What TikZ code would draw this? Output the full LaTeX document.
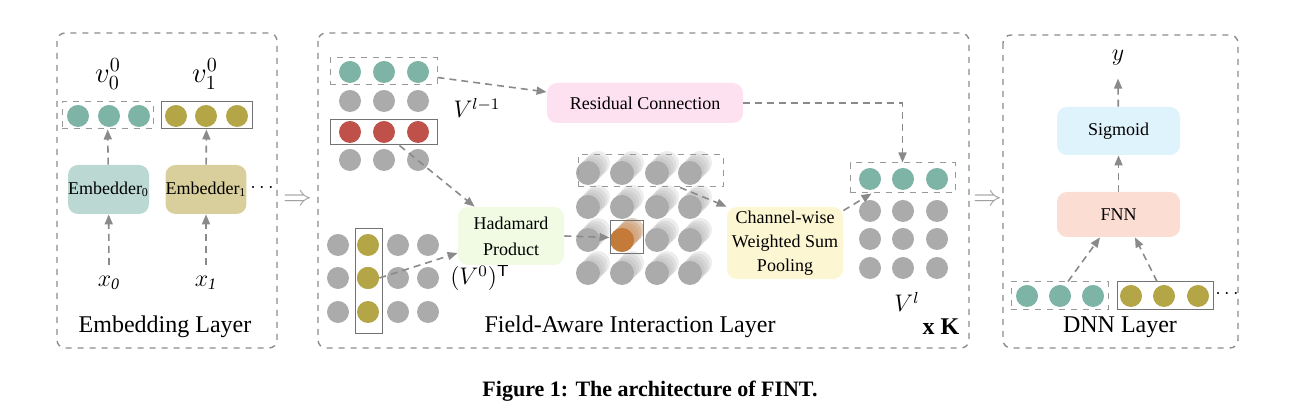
\documentclass[tikz,border=0pt]{standalone}
\usepackage{fontspec}
\setmainfont{Liberation Serif}
\usepackage{tikz}
\usetikzlibrary{arrows.meta}

\definecolor{tealc}{HTML}{7DB4A6}
\definecolor{olivec}{HTML}{B4A547}
\definecolor{grayc}{HTML}{ABABAB}
\definecolor{redc}{HTML}{C0504A}
\definecolor{orangec}{HTML}{C47A38}
\definecolor{linec}{HTML}{8A8A8A}
\definecolor{embA}{HTML}{BBD9D2}
\definecolor{embB}{HTML}{D8CF9C}
\definecolor{resc}{HTML}{FDE1F0}
\definecolor{hadc}{HTML}{F1FBE3}
\definecolor{poolc}{HTML}{FDF6D2}
\definecolor{sigc}{HTML}{DFF3FC}
\definecolor{fnnc}{HTML}{FCDDD3}

\begin{document}
\begin{tikzpicture}[x=0.5pt, y=-0.5pt,
		ball/.style={circle, inner sep=0pt, minimum size=11pt},
		bigball/.style={circle, inner sep=0pt, minimum size=12pt},
		layer/.style={draw=gray!90, dashed, line width=0.7pt, rounded corners=4pt},
		flow/.style={draw=linec, line width=0.8pt, dash pattern=on 3.5pt off 2.5pt, -{Triangle[length=5pt, width=4pt]}},
		block/.style={rounded corners=5pt, inner sep=0pt, font=\small, align=center},
		dbox/.style={draw=gray!80, dashed, line width=0.5pt, inner sep=0pt},
		sbox/.style={draw=gray!90!black, line width=0.5pt, inner sep=0pt}]
		\useasboundingbox (0,0) rectangle (1297,415);

		% Panels
		\draw[layer] (57,33) rectangle (277,348);
		\draw[layer] (318,33) rectangle (969,348);
		\draw[layer] (1003,35) rectangle (1238,348);
		\node[text=gray!75, font=\Large] (imp1) at (298,200) {$\Rightarrow$};
		\node[text=gray!75, font=\Large] (imp2) at (988,200) {$\Rightarrow$};

		% Embedding Layer
		\node[dbox, minimum width=45.5pt, minimum height=13.5pt] (e0) at (107.5,115.5) {};
		\foreach \x in {78,109,139} \node[ball, fill=tealc] at (\x,116) {};
		\node[sbox, minimum width=45.5pt, minimum height=13.5pt] (e1) at (206.5,115.5) {};
		\foreach \x in {176,206,237} \node[ball, fill=olivec] at (\x,116) {};
		\node[block, fill=embA, minimum width=40.5pt, minimum height=24.5pt] (emb0) at (108.5,189.5) {Embedder\textsubscript{0}};
		\node[block, fill=embB, minimum width=40pt, minimum height=24.5pt] (emb1) at (206,189.5) {Embedder\textsubscript{1}};
		\node (dots0) at (262,188) {$\cdots$};
		\node[font=\Large, inner sep=0pt] (v0) at (108,74) {$v_0^0$};
		\node[font=\Large, inner sep=0pt] (v1) at (205,74) {$v_1^0$};
		\node[font=\large] (x0) at (109,283) {$x_{\mathit{0}}$};
		\node[font=\large] (x1) at (206,283) {$x_{\mathit{1}}$};
		\draw[flow] ([yshift=2pt]x0.north) -- (emb0);
		\draw[flow] ([yshift=2pt]x1.north) -- (emb1);
		\draw[flow] (emb0) -- (e0);
		\draw[flow] (emb1) -- (e1);
		\node[font=\large] (t1) at (165,327) {Embedding Layer};

		% Field-Aware Interaction Layer: V^{l-1}
		\node[dbox, minimum width=53.5pt, minimum height=13.5pt] (vtop) at (383.5,71.5) {};
		\foreach \x in {350,384,418} {
			\node[ball, fill=tealc] at (\x,72) {};
			\node[ball, fill=grayc] at (\x,101) {};
			\node[ball, fill=redc] at (\x,132) {};
			\node[ball, fill=grayc] at (\x,160) {};
		}
		\node[sbox, minimum width=53.5pt, minimum height=12.5pt] (vred) at (383.5,132.5) {};
		\node[font=\large] (vprev) at (477,108) {$V^{l-1}$};

		% V^0 transposed
		\foreach \x/\c in {338/grayc,368/olivec,398/grayc,428/grayc}
			\foreach \y in {245,278,312} \node[ball, fill=\c] at (\x,\y) {};
		\node[ball, fill=olivec] (vo) at (368,278) {};
		\node[sbox, minimum width=13.5pt, minimum height=52.5pt] (vcol) at (368.5,281.5) {};
		\node[font=\large] (vzero) at (480,278) {$(V^0)^{\mathsf{T}}$};

		% Blocks
		\node[block, fill=resc, minimum width=98pt, minimum height=20pt] (res) at (645,103) {Residual Connection};
		\node[block, fill=hadc, minimum width=53pt, minimum height=29pt] (had) at (511,236) {Hadamard\\[2pt]Product};
		\node[block, fill=poolc, minimum width=58pt, minimum height=36pt] (pool) at (785,243) {Channel-wise\\[1pt]Weighted Sum\\[1pt]Pooling};

		% Interaction tensor
		\foreach \x in {588,622,657,690}
			\foreach \y in {173,207,240,273} {
				\foreach \k in {4,3,2,1} \node[bigball, fill=grayc, opacity=0.22] at (\x+2.5*\k,\y-2.5*\k) {};
				\node[bigball, fill=grayc] at (\x,\y) {};
			}
		\foreach \k in {4,3,2,1} \node[bigball, fill=orangec!70, opacity=0.4] at (622+2.5*\k,240-2.5*\k) {};
		\node[bigball, fill=orangec] at (622,240) {};
		\node[dbox, minimum width=72.5pt, minimum height=16pt] (ttop) at (650.5,171) {};
		\node[sbox, minimum width=16.5pt, minimum height=16.5pt] (oc) at (626.5,237.5) {};

		% V^l
		\foreach \x in {870,903,937} {
			\node[ball, fill=tealc] at (\x,179) {};
			\foreach \y in {211,239,268} \node[ball, fill=grayc] at (\x,\y) {};
		}
		\node[dbox, minimum width=52.5pt, minimum height=15pt] (vl) at (902.5,178) {};
		\node[font=\large] (vlab) at (907,302) {$V^{l}$};
		\node[font=\large\bfseries] (times) at (941,327) {x K};
		\node[font=\large] (t2) at (630,327) {Field-Aware Interaction Layer};

		% Connections
		\draw[flow] ([yshift=-3pt]vtop.east) -- ([yshift=5.5pt]res.west);
		\draw[flow] (res.east) -| (vl.north);
		\draw[flow] ([xshift=8pt]vred.south) -- ([xshift=8.5pt]had.north west);
		\draw[flow] (vo.east) -- ([yshift=-8.5pt]had.west);
		\draw[flow] (had.east) -- (oc.west);
		\draw[flow] ([xshift=14.75pt]ttop.south) -- (pool.north west);
		\draw[flow] ([yshift=-2pt]pool.north east) -- ([xshift=11pt]vl.south west);

		% DNN Layer
		\node[font=\large] (ylab) at (1118,58) {$y$};
		\node[block, fill=sigc, minimum width=61.5pt, minimum height=24pt] (sig) at (1118.5,131) {Sigmoid};
		\node[block, fill=fnnc, minimum width=61.5pt, minimum height=22.5pt] (fnn) at (1118.5,214.5) {FNN};
		\node[dbox, minimum width=48.5pt, minimum height=14pt] (d0) at (1059.5,296) {};
		\foreach \x in {1027,1060,1093} \node[ball, fill=tealc] at (\x,296) {};
		\node[sbox, minimum width=48pt, minimum height=14pt] (d1) at (1165,296) {};
		\foreach \x in {1131,1164,1198} \node[ball, fill=olivec] at (\x,296) {};
		\node (dots1) at (1227,294) {$\cdots$};
		\draw[flow] (sig) -- ([yshift=-3pt]ylab.south);
		\draw[flow] (fnn) -- (sig);
		\draw[flow] ([xshift=4.25pt]d0.north) -- ([xshift=-9.25pt]fnn.south);
		\draw[flow] ([xshift=-4pt]d1.north) -- ([xshift=8.25pt]fnn.south);
		\node[font=\large] (t3) at (1120,327) {DNN Layer};

		% Caption
		\node[font=\fontsize{11}{13}\selectfont\bfseries] (cap) at (650,391) {Figure 1: The architecture of FINT.};
	\end{tikzpicture}
\end{document}
